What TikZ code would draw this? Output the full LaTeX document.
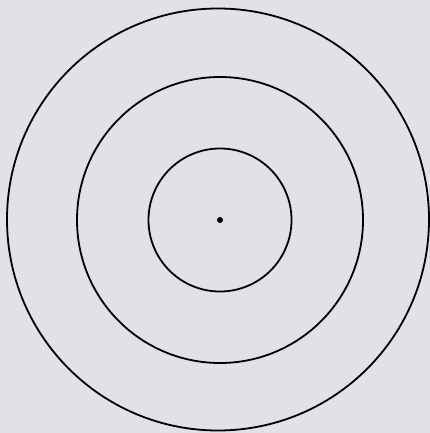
\documentclass[tikz,border=0pt]{standalone}
\usepackage{tikz}

\definecolor{paper}{RGB}{224,226,232}

\begin{document}
\begin{tikzpicture}[
			x=1pt, y=-1pt,
			ring/.style={draw=black, line width=1.8pt},
			centredot/.style={fill=black}
			]
			
			% Background
			\fill[paper] (0,0) rectangle (430,433);
			\useasboundingbox (0,0) rectangle (430,433);
			
			% Centre
			\coordinate (centre) at (220,220);
			
			% Rings
			\draw[ring] (218,219.5) circle[radius=211];
			\draw[ring] (centre) circle[radius=143];
			\draw[ring] (centre) circle[radius=71.5];
			\fill[centredot] (centre) circle[radius=3];
			
		\end{tikzpicture}
\end{document}
